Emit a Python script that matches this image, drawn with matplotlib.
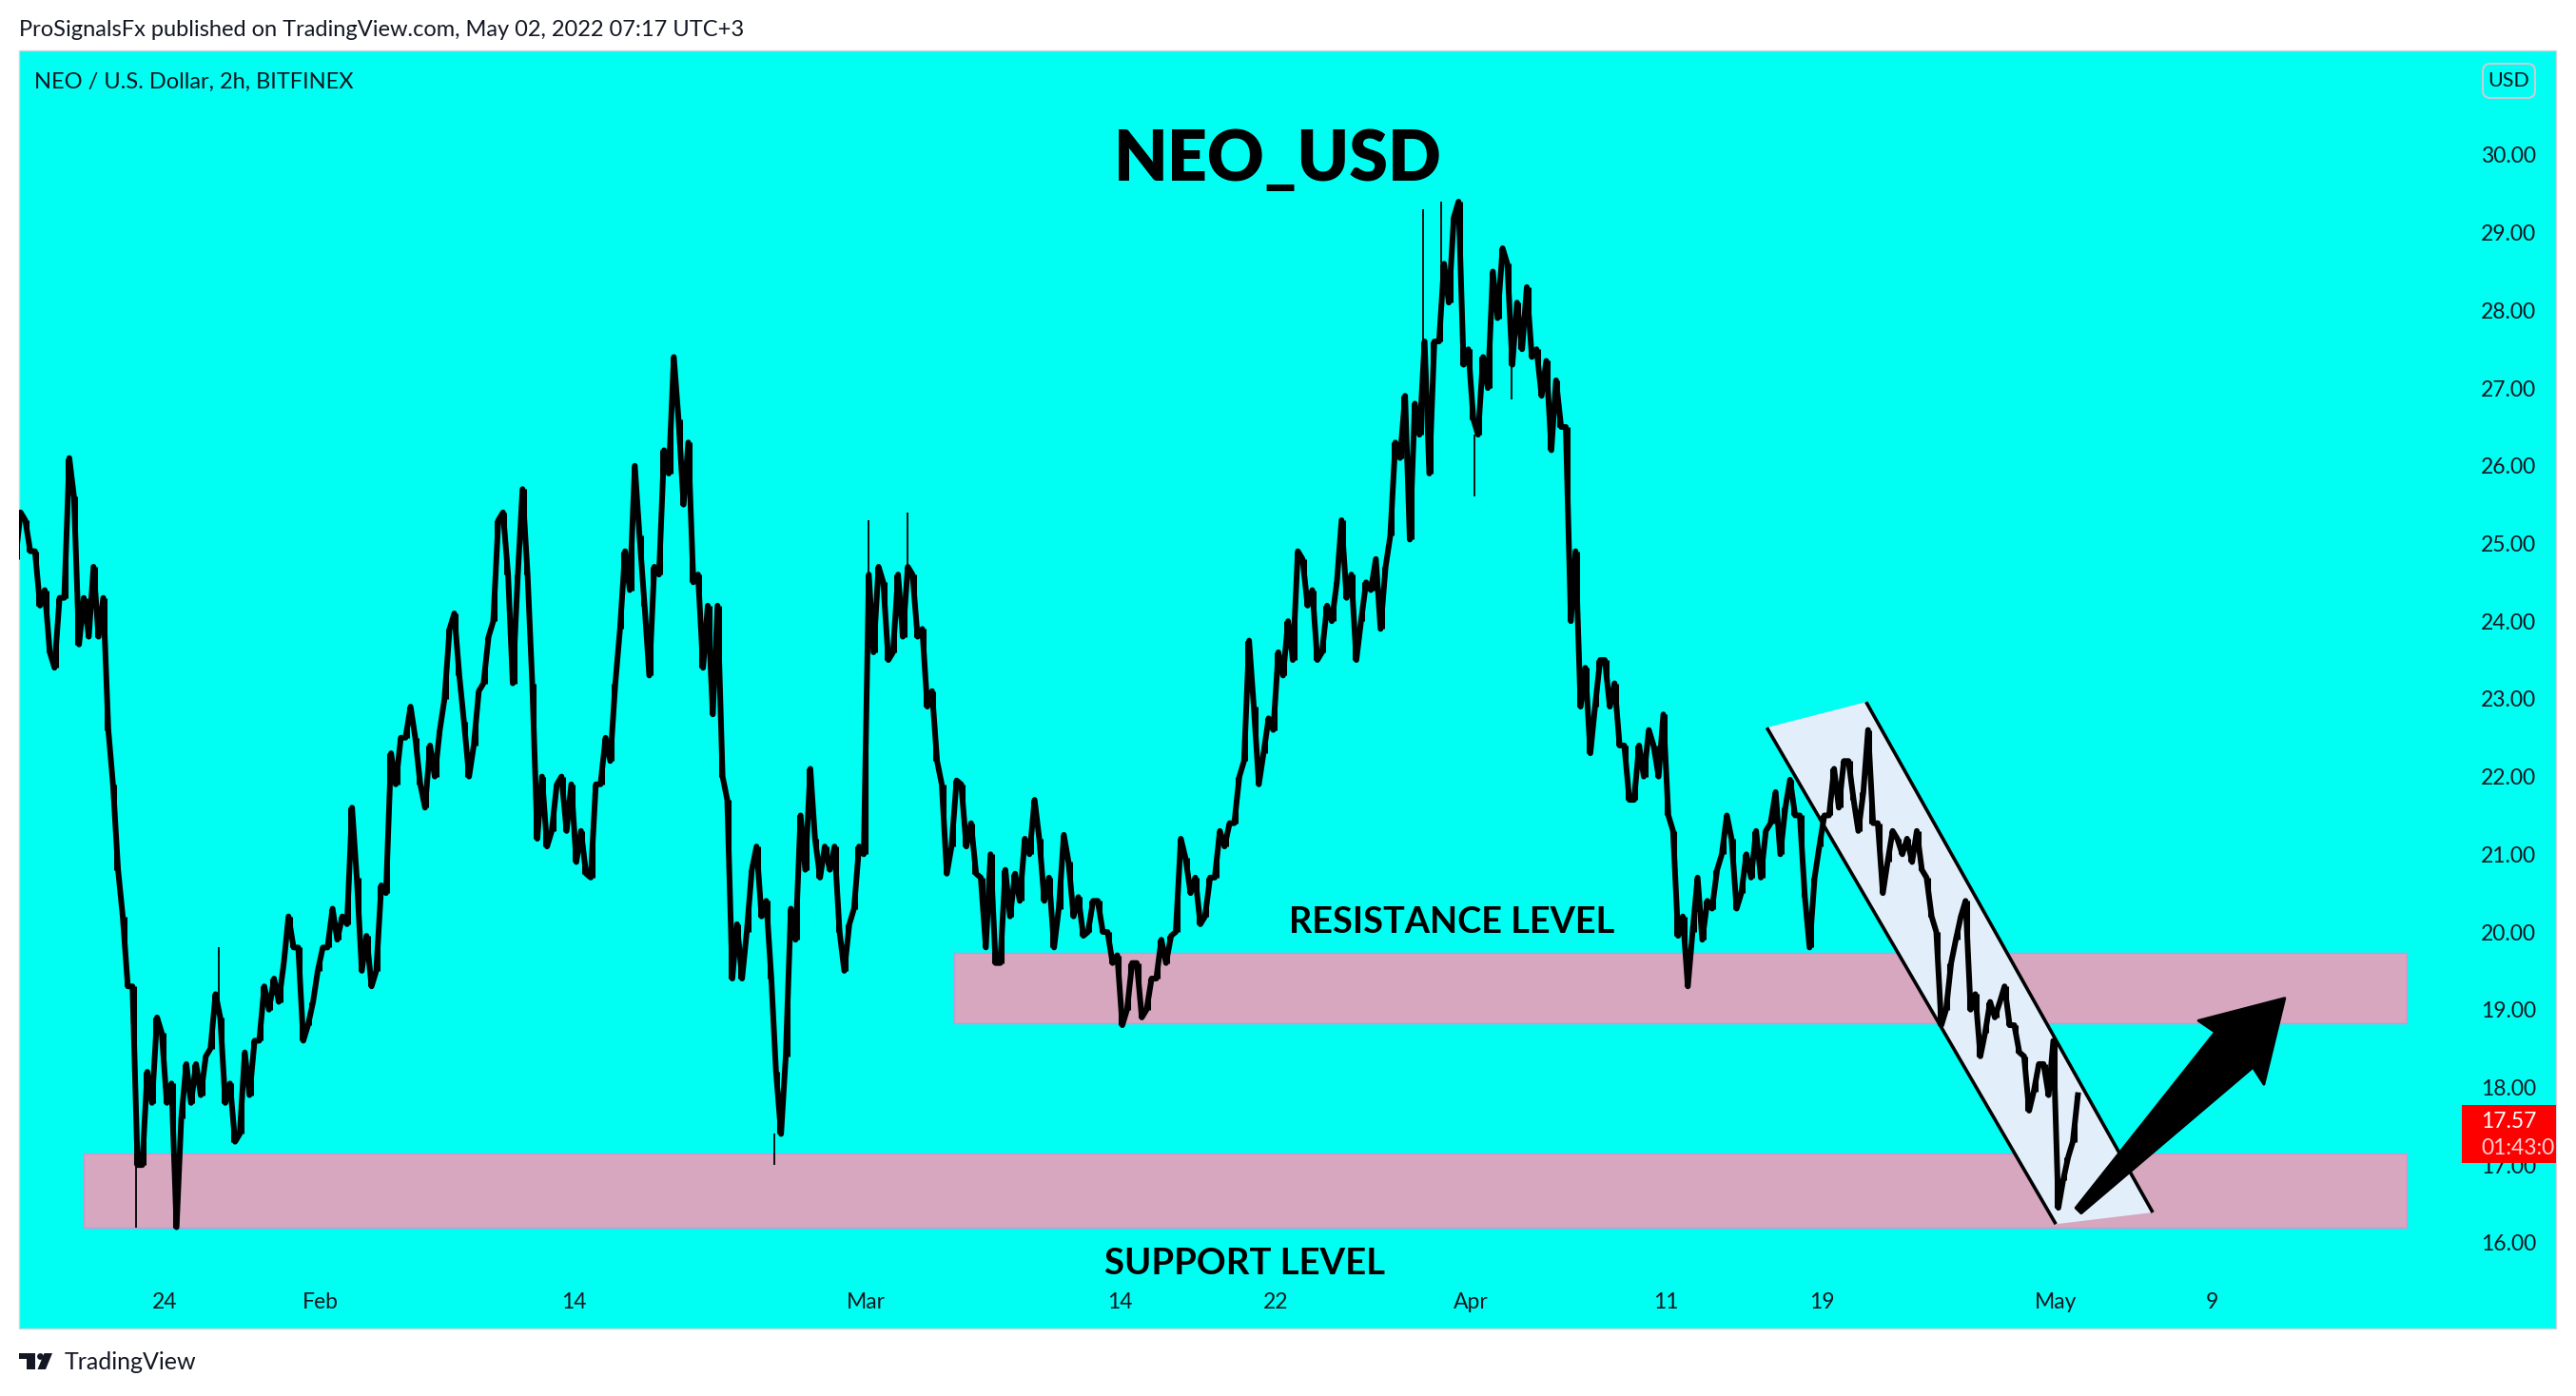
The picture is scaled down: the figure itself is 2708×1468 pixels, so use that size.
import matplotlib
matplotlib.use("Agg")
import matplotlib.pyplot as plt
from matplotlib.patches import Rectangle, Polygon, FancyBboxPatch, Circle
from matplotlib.transforms import IdentityTransform
import numpy as np
import pandas as pd

# NEO / USD 2h chart in 12h steps (high and low of each step)
inicio = "2022-01-16 12:00"
base = pd.Timestamp("2022-01-24")   # x axis counts days from here

hi = [25.4, 25.3, 24.9, 24.4, 24.3, 26.1, 25.6, 24.3, 24.7, 24.3,
      21.9, 20.2, 19.3, 18.2, 18.9, 18.7, 18.05, 18.3, 18.3, 18.4,
      19.2, 18.9, 18.05, 18.45, 18.6, 19.3, 19.4, 19.6, 20.2, 19.8,
      19.1, 19.8, 20.3, 20.2, 21.6, 20.7, 19.95, 20.6, 22.3, 22.5,
      22.9, 22.5, 22.4, 22.6, 23.9, 24.1, 22.7, 23.1, 23.8, 25.3,
      25.4, 24.6, 25.7, 23.2, 22.0, 21.9, 22.0, 21.9, 21.3, 21.9,
      22.5, 23.2, 24.9, 26.0, 25.1, 24.7, 26.2, 27.4, 26.6, 26.3,
      24.6, 24.2, 24.2, 21.7, 20.1, 20.8, 21.1, 20.4, 18.2, 20.3,
      21.5, 22.1, 21.2, 21.1, 21.1, 20.1, 21.1, 24.6, 24.7, 24.5,
      24.6, 24.7, 24.6, 23.9, 23.1, 21.9, 21.95, 21.9, 21.4, 20.7,
      21.0, 20.8, 20.75, 21.2, 21.7, 21.2, 20.7, 21.25, 20.9, 20.45,
      20.4, 20.4, 20.0, 19.7, 19.6, 19.6, 19.4, 19.9, 19.95, 21.2,
      20.95, 20.7, 20.7, 21.3, 21.4, 22.0, 23.75, 22.9, 22.75, 23.6,
      24.0, 24.9, 24.8, 24.4, 24.2, 24.5, 25.3, 24.6, 24.5, 24.8,
      24.7, 26.3, 26.9, 26.8, 27.6, 27.6, 28.6, 29.2, 29.4, 27.5,
      27.4, 28.5, 28.8, 28.6, 28.1, 28.3, 27.5, 27.35, 27.1, 26.5,
      24.9, 23.4, 23.5, 23.5, 23.2, 22.4, 22.4, 22.6, 22.4, 22.8,
      21.3, 20.2, 20.7, 20.4, 20.8, 21.5, 21.2, 21.0, 21.3, 21.3,
      21.8, 21.6, 21.96, 21.5, 20.7, 21.5, 22.1, 22.2, 22.2, 21.8,
      22.6, 21.4, 21.3, 21.2, 21.2, 21.3, 20.7, 20.0, 19.6, 20.2,
      20.4, 19.2, 19.1, 19.1, 19.3, 18.8, 18.4, 18.3, 18.3, 18.6,
      17.1, 17.9]

lo = [24.8, 24.9, 24.2, 23.6, 23.4, 24.3, 23.7, 23.8, 23.8, 22.6,
      20.8, 19.3, 17.0, 17.0, 17.8, 17.8, 16.2, 17.6, 17.8, 17.9,
      18.5, 17.8, 17.3, 17.4, 17.9, 18.6, 19.0, 19.1, 19.8, 18.6,
      18.8, 19.5, 19.8, 19.9, 20.1, 19.5, 19.3, 19.5, 20.5, 21.9,
      22.5, 21.9, 21.6, 22.0, 23.0, 23.3, 22.0, 22.4, 23.2, 24.0,
      24.6, 23.2, 24.6, 21.2, 21.1, 21.3, 21.3, 20.9, 20.75, 20.7,
      21.9, 22.2, 23.9, 24.4, 24.2, 23.3, 24.6, 25.9, 25.5, 24.5,
      23.4, 22.8, 22.0, 19.4, 19.4, 20.0, 20.2, 19.4, 17.4, 18.4,
      19.9, 20.8, 20.7, 20.8, 20.0, 19.5, 20.3, 21.0, 23.6, 23.5,
      23.6, 23.8, 23.8, 22.9, 22.2, 20.75, 21.1, 21.1, 20.75, 19.8,
      19.6, 19.6, 20.2, 20.4, 21.0, 20.4, 19.8, 20.3, 20.2, 19.95,
      20.0, 20.0, 19.6, 18.8, 19.0, 18.9, 19.0, 19.4, 19.6, 20.0,
      20.5, 20.1, 20.2, 20.7, 21.1, 21.4, 22.2, 21.9, 22.3, 22.6,
      23.3, 23.5, 24.2, 23.5, 23.6, 24.0, 24.3, 23.5, 24.0, 24.4,
      23.9, 25.1, 26.1, 25.05, 26.4, 25.9, 27.6, 28.1, 27.3, 26.6,
      26.4, 27.0, 27.9, 27.3, 27.5, 27.4, 26.9, 26.2, 26.5, 24.0,
      22.9, 22.3, 22.9, 22.9, 22.4, 21.7, 21.7, 22.0, 22.0, 21.5,
      19.95, 19.3, 20.0, 19.9, 20.3, 21.0, 20.3, 20.5, 20.7, 20.7,
      21.4, 21.0, 21.5, 20.45, 19.8, 21.1, 21.5, 21.6, 21.7, 21.3,
      21.4, 20.5, 20.9, 21.0, 20.9, 20.8, 20.2, 18.8, 19.0, 19.9,
      19.0, 18.4, 18.7, 18.9, 18.8, 18.45, 17.7, 17.95, 17.9, 16.45,
      16.8, 17.3]

# long thin wicks sticking out of the band (days from Jan 24, from, to)
wick_dia = [-1.47, 2.81, 31.3, 36.1, 38.1, 64.57, 65.5, 67.2, 69.1]
wick_de = [17.0, 18.9, 17.4, 24.6, 24.6, 27.6, 28.6, 26.4, 27.3]
wick_ate = [16.2, 19.8, 17.0, 25.3, 25.4, 29.3, 29.4, 25.6, 26.85]

ultimo_preco = "17.57"
contagem = "01:43:0"

# axis labels
tick_datas = ["2022-01-24", "2022-02-01", "2022-02-14", "2022-03-01", "2022-03-14",
              "2022-03-22", "2022-04-01", "2022-04-11", "2022-04-19", "2022-05-01",
              "2022-05-09"]
tick_nomes = ["24", "Feb", "14", "Mar", "14", "22", "Apr", "11", "19", "May", "9"]
precos_eixo = list(range(16, 31))

# zones (price bottom, price top)
suporte = (16.2, 17.15)
resistencia = (18.82, 19.73)

W, H = 2708, 1468
ciano = "#00FFF3"
tinta = "#131722"

fig = plt.figure(figsize=(W / 100, H / 100), dpi=100, facecolor="white")

# cyan chart panel
fig.patches.append(Rectangle((20 / W, 1 - 1397 / H), 2667 / W, 1344 / H,
                             transform=fig.transFigure, facecolor=ciano,
                             edgecolor="#d1d4dc", lw=1, zorder=-1))

ax = fig.add_axes([20 / W, 1 - 1345 / H, 2568 / W, 1292 / H])
ax.set_facecolor("none")
for s in ax.spines.values():
    s.set_visible(False)
ax.set_xlim(-7.449, 117.82)
ax.set_ylim(15.533, 31.346)

tempos = pd.date_range(inicio, periods=len(hi), freq="12h")
x = np.array((tempos - base) / pd.Timedelta(days=1))

# zones
ax.add_patch(Rectangle((-4.13, suporte[0]), 119.13, suporte[1] - suporte[0],
                       facecolor="#D7A6BF", edgecolor="#CC96D2", lw=1, zorder=1))
ax.add_patch(Rectangle((40.5, resistencia[0]), 74.5, resistencia[1] - resistencia[0],
                       facecolor="#D7A6BF", edgecolor="#CC96D2", lw=1, zorder=1))

# descending channel
canal = [(82.18, 22.63), (87.27, 22.96), (101.97, 16.39), (97.0, 16.24)]
ax.add_patch(Polygon(canal, closed=True, facecolor="#E2EFFA", edgecolor="none", zorder=2))
ax.plot([canal[0][0], canal[3][0]], [canal[0][1], canal[3][1]], color="black", lw=2.6,
        solid_capstyle="butt", zorder=4)
ax.plot([canal[1][0], canal[2][0]], [canal[1][1], canal[2][1]], color="black", lw=2.6,
        solid_capstyle="butt", zorder=4)

# price: inside every 12h step go low->high when the market is rising, high->low otherwise
n = len(hi)
mid = [(hi[i] + lo[i]) / 2 for i in range(n)]
linha_t, linha_p = [], []
for i in range(n):
    antes = mid[max(i - 1, 0)]
    depois = mid[min(i + 1, n - 1)]
    if depois >= antes:
        a, b = lo[i], hi[i]
    else:
        a, b = hi[i], lo[i]
    linha_t += [x[i] - 0.13, x[i] + 0.13]
    linha_p += [a, b]
ax.plot(linha_t, linha_p, color="black", lw=4.3, solid_joinstyle="round", zorder=3)
ax.vlines(x, lo, hi, color="black", lw=2.2, zorder=3)
ax.vlines(wick_dia, wick_de, wick_ate, color="black", lw=1.3, zorder=3)

# big arrow
seta = [(98.02, 16.448), (105.17, 18.711), (104.31, 18.859), (108.74, 19.148),
        (107.67, 18.039), (107.11, 18.258), (98.30, 16.380)]
ax.add_patch(Polygon(seta, closed=True, facecolor="black", edgecolor="black", lw=2,
                     joinstyle="round", zorder=5))


def fit(txt, largura):
    # scale font so the text gets the wanted width in pixels
    r = fig.canvas.get_renderer()
    w = txt.get_window_extent(r).width
    txt.set_fontsize(txt.get_fontsize() * largura / w)


t1 = ax.text(57.09, 29.67, "NEO_USD", ha="center", va="baseline", fontsize=60,
             fontweight="heavy", family="Lato", color="black", zorder=6)
t2 = ax.text(66.03, 19.99, "RESISTANCE LEVEL", ha="center", va="baseline", fontsize=29,
             fontweight="bold", family="Lato", color="black", zorder=6)
t3 = ax.text(55.39, 15.594, "SUPPORT LEVEL", ha="center", va="baseline", fontsize=29,
             fontweight="bold", family="Lato", color="black", zorder=6)
fit(t1, 345)
fit(t2, 343)
fit(t3, 295)

# axes ticks
ax.yaxis.tick_right()
ax.set_yticks(precos_eixo)
ax.set_yticklabels([f"{v:.2f}" for v in precos_eixo])
ax.tick_params(axis="y", length=0, pad=14.4, labelsize=16.5, labelcolor=tinta)
for lb in ax.get_yticklabels():
    lb.set_family("Lato")
pos = [(pd.Timestamp(d) - base).days for d in tick_datas]
ax.set_xticks(pos)
ax.set_xticklabels(tick_nomes)
ax.tick_params(axis="x", length=0, pad=10, labelsize=16.5, labelcolor=tinta)
for lb in ax.get_xticklabels():
    lb.set_family("Lato")

# header texts
h1 = fig.text(20 / W, 1 - 38.3 / H, "ProSignalsFx published on TradingView.com, May 02, 2022 07:17 UTC+3",
              ha="left", va="baseline", fontsize=18, family="Lato", color=tinta)
h2 = fig.text(35.6 / W, 1 - 93 / H, "NEO / U.S. Dollar, 2h, BITFINEX",
              ha="left", va="baseline", fontsize=18, family="Lato", color=tinta)
fit(h1, 762)
fit(h2, 336)

# USD box
fig.patches.append(FancyBboxPatch((2610, H - 103), 55, 36,
                                  boxstyle="round,pad=0,rounding_size=8",
                                  transform=IdentityTransform(), facecolor=ciano,
                                  edgecolor="#c8ccd6", lw=1.5, zorder=5))
fig.text(2637.5 / W, 1 - 85 / H, "USD", ha="center", va="center", fontsize=15.5,
         family="Lato", color=tinta, zorder=6)

# last price tag
fig.patches.append(Rectangle((2588, H - 1223), 99, 61, transform=IdentityTransform(),
                             facecolor="#FF0000", edgecolor="none", zorder=5))
fig.text(2608 / W, 1 - 1180 / H, ultimo_preco, ha="left", va="center", fontsize=16.5,
         family="Lato", color="white", zorder=6)
fig.text(2608 / W, 1 - 1207 / H, contagem, ha="left", va="center", fontsize=16.5,
         family="Lato", color="#FFD2D2", zorder=6)

# TradingView logo
logo = IdentityTransform()
fig.patches.append(Rectangle((20, H - 1429), 17, 6, transform=logo, facecolor=tinta, zorder=5))
fig.patches.append(Rectangle((28, H - 1440), 9, 17, transform=logo, facecolor=tinta, zorder=5))
fig.patches.append(Circle((42.5, H - 1426.5), 3.4, transform=logo, facecolor=tinta, zorder=5))
fig.patches.append(Polygon([(46.5, H - 1423), (55, H - 1423), (48, H - 1440), (39.5, H - 1440)],
                           closed=True, transform=logo, facecolor=tinta, zorder=5))
lg = fig.text(68 / W, 1 - 1440 / H, "TradingView", ha="left", va="baseline", fontsize=17,
              family="Lato", color=tinta)
fit(lg, 139)

fig.savefig("out.png", dpi=100, facecolor="white")
